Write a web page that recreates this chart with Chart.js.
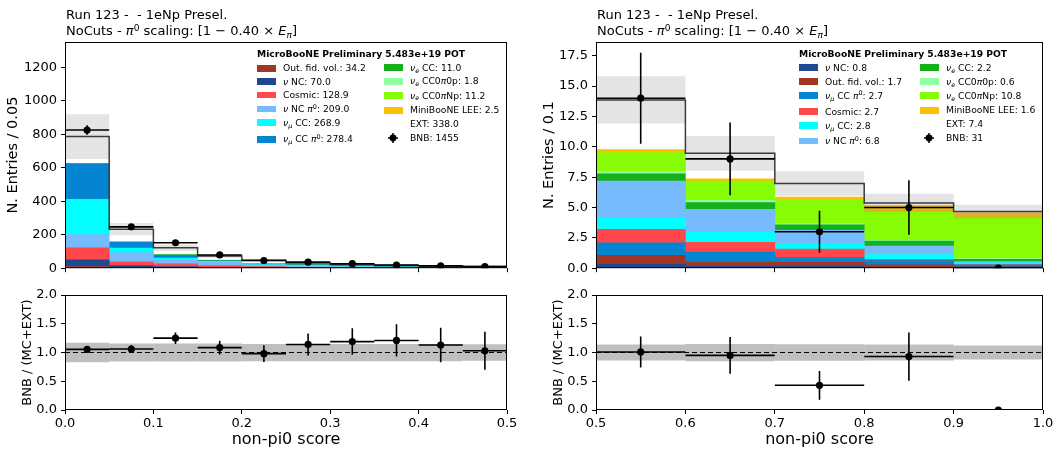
<!DOCTYPE html>
<html>
<head>
<meta charset="utf-8">
<title>non-pi0 score</title>
<script src="https://cdn.jsdelivr.net/npm/chart.js@4.4.1/dist/chart.umd.min.js"></script>
<style>
  html, body { margin: 0; padding: 0; background: #fff; }
  #page { position: relative; width: 1056px; height: 453px; overflow: hidden;
          font-family: 'DejaVu Sans', sans-serif; color: #000; }
  canvas { position: absolute; }
  .txt { position: absolute; white-space: pre; }
  .ttl { font-size: 13px; line-height: 16px; }
  .leg { font-size: 9.2px; line-height: 12px; }
  .legtitle { font-weight: bold; }
  .sw { position: absolute; width: 18.5px; height: 6.5px; }
  .sp { font-size: 0.7em; position: relative; top: -0.5em; }
  .sb { font-size: 0.7em; position: relative; top: 0.3em; }
</style>
</head>
<body>
<div id="page">
  <canvas id="topL" width="520" height="280" style="left:0;top:0"></canvas>
  <canvas id="topR" width="536" height="280" style="left:520px;top:0"></canvas>
  <canvas id="ratL" width="520" height="173" style="left:0;top:280px"></canvas>
  <canvas id="ratR" width="536" height="173" style="left:520px;top:280px"></canvas>
</div>
<script>
Chart.defaults.font.family = "'DejaVu Sans', sans-serif";
Chart.defaults.color = '#000';

// bin edges of the two score ranges
const edgesL = [0, 0.05, 0.1, 0.15, 0.2, 0.25, 0.3, 0.35, 0.4, 0.45, 0.5];
const edgesR = [0.5, 0.6, 0.7, 0.8, 0.9, 1.0];

// left panel, entries per bin (stack order = legend order)
const outFvL     = [10, 5, 3, 2, 2, 2, 2, 2.2, 3.0, 3.0];
const nuNcL      = [40, 10, 6, 3, 2, 2.5, 2, 1.5, 1.5, 1.5];
const cosmicL    = [72, 23, 17, 10, 5, 0.5, 0.4, 0.4, 0.3, 0.3];
const ncPi0L     = [79, 55, 25, 22, 10, 7, 4, 3, 2.5, 1.5];
const numuCcL    = [210, 27, 10, 4, 3, 5, 4, 3, 1.9, 1];
const numuCcPi0L = [211, 35, 18, 3, 2, 3, 2.5, 2, 1, 0.9];
const nueCcL     = [2.5, 1.5, 1, 1.5, 1.2, 1, 0.8, 0.6, 0.5, 0.4];
const nue0pL     = [0.4, 0.2, 0.2, 0.3, 0.2, 0.1, 0.1, 0.1, 0.1, 0.1];
const nueNpL     = [0.3, 0.3, 0.5, 1.8, 2.2, 1.8, 1.5, 1.2, 0.9, 0.7];
const leeL       = [0.1, 0.1, 0.2, 0.4, 0.4, 0.4, 0.3, 0.2, 0.2, 0.2];
const extL       = [161, 76, 41, 25, 19, 8.3, 5.1, 1.5, 0.5, 0.1];
const bnbL       = [825, 247, 152, 79, 46, 36, 27, 19, 14, 10];
const bnbErrL    = [28.7, 15.7, 12.3, 8.9, 6.8, 6.0, 5.2, 4.4, 3.7, 3.2];
const relErrL    = [0.17, 0.155, 0.155, 0.155, 0.15, 0.15, 0.15, 0.15, 0.15, 0.145];
const ratioL     = [1.055, 1.06, 1.25, 1.085, 0.98, 1.14, 1.19, 1.21, 1.13, 1.03];
const ratioErrL  = [0.037, 0.067, 0.10, 0.12, 0.145, 0.19, 0.23, 0.28, 0.30, 0.33];
const legendTotL = [34.2, 70.0, 128.9, 209.0, 268.9, 278.4, 11.0, 1.8, 11.2, 2.5, 338.0];
const bnbTotL    = 1455;

// right panel
const nuNcR      = [0.32, 0.15, 0.15, 0.08, 0.1];
const outFvR     = [0.75, 0.4, 0.33, 0.2, 0.02];
const numuCcPi0R = [1.02, 0.78, 0.41, 0.35, 0.15];
const cosmicR    = [1.11, 0.81, 0.68, 0.1, 0.02];
const numuCcR    = [0.97, 0.81, 0.45, 0.4, 0.15];
const ncPi0R     = [3.0, 1.9, 1.1, 0.7, 0.1];
const nueCcR     = [0.6, 0.55, 0.45, 0.4, 0.2];
const nue0pR     = [0.2, 0.18, 0.1, 0.06, 0.06];
const nueNpR     = [1.55, 1.6, 1.95, 2.4, 3.3];
const leeR       = [0.25, 0.18, 0.23, 0.47, 0.47];
const extR       = [4.09, 2.11, 1.13, 0.22, 0.09];
const bnbR       = [14, 9, 3, 5, 0];
const bnbErrR    = [3.74, 3.0, 1.73, 2.24, 0];
const relErrR    = [0.14, 0.15, 0.145, 0.14, 0.12];
const ratioR     = [1.01, 0.95, 0.43, 0.93, 0];
const ratioErrR  = [0.27, 0.32, 0.25, 0.42, 0];
const legendTotR = [0.8, 1.7, 2.7, 2.7, 2.8, 6.8, 2.2, 0.6, 10.8, 1.6, 7.4];
const bnbTotR    = 31;

// axis ticks
const xTicksL = [0, 0.1, 0.2, 0.3, 0.4, 0.5];
const xTicksR = [0.5, 0.6, 0.7, 0.8, 0.9, 1.0];
const yTicksTopL = [0, 200, 400, 600, 800, 1000, 1200];
const yTicksTopR = [0, 2.5, 5, 7.5, 10, 12.5, 15, 17.5];
const yTicksRatio = [0, 0.5, 1, 1.5, 2];

const keysL = ['outFv', 'nuNc', 'cosmic', 'ncPi0', 'numuCc', 'numuCcPi0', 'nueCc', 'nue0p', 'nueNp', 'lee', 'ext'];
const stackL = [outFvL, nuNcL, cosmicL, ncPi0L, numuCcL, numuCcPi0L, nueCcL, nue0pL, nueNpL, leeL, extL];
const keysR = ['nuNc', 'outFv', 'numuCcPi0', 'cosmic', 'numuCc', 'ncPi0', 'nueCc', 'nue0p', 'nueNp', 'lee', 'ext'];
const stackR = [nuNcR, outFvR, numuCcPi0R, cosmicR, numuCcR, ncPi0R, nueCcR, nue0pR, nueNpR, leeR, extR];

const colors = {
  outFv: '#a13624', nuNc: '#1e488f', cosmic: '#ff474c', ncPi0: '#75bbfd',
  numuCc: '#00ffff', numuCcPi0: '#0485d1', nueCc: '#15b01a', nue0p: '#8fff9f',
  nueNp: '#87fd05', lee: '#fbbf05', ext: '#ffffff'
};
const nu = '<i>ν</i>';
const pi0 = '<i>π</i><span class="sp">0</span>';
const names = {
  outFv: 'Out. fid. vol.', nuNc: nu + ' NC', cosmic: 'Cosmic', ncPi0: nu + ' NC ' + pi0,
  numuCc: nu + '<span class="sb"><i>μ</i></span> CC',
  numuCcPi0: nu + '<span class="sb"><i>μ</i></span> CC ' + pi0,
  nueCc: nu + '<span class="sb"><i>e</i></span> CC',
  nue0p: nu + '<span class="sb"><i>e</i></span> CC0<i>π</i>0p',
  nueNp: nu + '<span class="sb"><i>e</i></span> CC0<i>π</i>Np',
  lee: 'MiniBooNE LEE', ext: 'EXT'
};

const centers = edges => edges.slice(0, -1).map((e, i) => (e + edges[i + 1]) / 2);
const halfW = edges => edges.slice(0, -1).map((e, i) => (edges[i + 1] - e) / 2);
const barOpts = { type: 'bar', borderWidth: 0, grouped: false, barPercentage: 1, categoryPercentage: 1 };

// draws x/y error bars of datasets that carry errX / errY
const errorBars = {
  id: 'errorBars',
  afterDatasetsDraw(chart) {
    const { ctx, chartArea: a, scales: { x, y } } = chart;
    ctx.save();
    ctx.beginPath();
    ctx.rect(a.left, a.top, a.width, a.height);
    ctx.clip();
    ctx.strokeStyle = '#000';
    ctx.lineWidth = 1.6;
    chart.data.datasets.forEach(ds => {
      if (!ds.errY) return;
      ds.data.forEach((p, i) => {
        const px = x.getPixelForValue(p.x);
        const py = y.getPixelForValue(p.y);
        ctx.beginPath();
        ctx.moveTo(x.getPixelForValue(p.x - ds.errX[i]), py);
        ctx.lineTo(x.getPixelForValue(p.x + ds.errX[i]), py);
        ctx.moveTo(px, y.getPixelForValue(p.y - ds.errY[i]));
        ctx.lineTo(px, y.getPixelForValue(p.y + ds.errY[i]));
        ctx.stroke();
      });
    });
    ctx.restore();
  }
};

// box round the plot area, like matplotlib spines
const frame = {
  id: 'frame',
  afterDraw(chart) {
    const { ctx, chartArea: a } = chart;
    ctx.save();
    ctx.strokeStyle = '#000';
    ctx.lineWidth = 1;
    ctx.strokeRect(a.left + 0.5, a.top + 0.5, a.width - 1, a.height - 1);
    ctx.restore();
  }
};

function pointsWithErrors(edges, vals, errs) {
  return {
    type: 'scatter',
    data: centers(edges).map((x, i) => ({ x, y: vals[i] })),
    pointRadius: 3.6, pointBackgroundColor: '#000', pointBorderWidth: 0,
    errX: halfW(edges), errY: errs, clip: 0, order: 0
  };
}

function topDatasets(edges, keys, stack, bnb, bnbErr, relErr) {
  const xs = centers(edges);
  const total = xs.map(() => 0);
  const sets = keys.map((k, j) => ({
    ...barOpts,
    data: xs.map((x, i) => {
      const lo = total[i];
      total[i] += stack[j][i];
      return { x, y: [lo, total[i]] };
    }),
    backgroundColor: colors[k], order: 5
  }));
  sets.push({
    ...barOpts, inflateAmount: 0,
    data: xs.map((x, i) => ({ x, y: [total[i] * (1 - relErr[i]), total[i] * (1 + relErr[i])] })),
    backgroundColor: 'rgba(128,128,128,0.21)', order: 3
  });
  const step = [];
  total.forEach((v, i) => step.push({ x: edges[i], y: v }, { x: edges[i + 1], y: v }));
  sets.push({
    type: 'line', data: step, borderColor: '#3a3a3a', borderWidth: 1.5,
    pointRadius: 0, fill: false, tension: 0, order: 2
  });
  sets.push(pointsWithErrors(edges, bnb, bnbErr));
  return sets;
}

function ratioDatasets(edges, relErr, ratio, ratioErr) {
  const xs = centers(edges);
  return [
    {
      ...barOpts, inflateAmount: 0,
      data: xs.map((x, i) => ({ x, y: [1 - relErr[i], 1 + relErr[i]] })),
      backgroundColor: 'rgba(128,128,128,0.5)', order: 3
    },
    {
      type: 'line', data: [{ x: edges[0], y: 1 }, { x: edges[edges.length - 1], y: 1 }],
      borderColor: '#000', borderWidth: 1.2, borderDash: [5, 3], pointRadius: 0, order: 2
    },
    pointsWithErrors(edges, ratio, ratioErr)
  ];
}

const tickGrid = { drawOnChartArea: false, drawTicks: true, tickLength: 4, color: '#000', lineWidth: 1, offset: false };

function makeChart(id, datasets, ax) {
  return new Chart(document.getElementById(id), {
    type: 'bar',
    data: { datasets },
    options: {
      responsive: false, animation: false, devicePixelRatio: 1, events: [],
      layout: { padding: ax.pad },
      plugins: { legend: { display: false }, tooltip: { enabled: false } },
      scales: {
        x: {
          type: 'linear', min: ax.xTicks[0], max: ax.xTicks[ax.xTicks.length - 1], offset: false,
          afterBuildTicks: s => { s.ticks = ax.xTicks.map(value => ({ value })); },
          afterFit: s => { s.height = ax.xH; },
          grid: tickGrid, border: { display: false },
          ticks: { display: ax.xLabels, autoSkip: false, maxRotation: 0, padding: 2,
                   font: { size: 13 }, callback: v => v.toFixed(1) },
          title: { display: !!ax.xTitle, text: ax.xTitle || '', font: { size: 16 },
                   padding: { top: 0, bottom: 4 } }
        },
        y: {
          type: 'linear', min: 0, max: ax.yMax,
          afterBuildTicks: s => { s.ticks = ax.yTicks.map(value => ({ value })); },
          afterFit: s => { s.width = ax.yW; },
          grid: tickGrid, border: { display: false },
          ticks: { padding: 4, font: { size: 13 }, callback: v => v.toFixed(ax.yDec) },
          title: { display: true, text: ax.yTitle, font: { size: ax.yTitleSize },
                   padding: { top: ax.yTitlePad, bottom: 0 } }
        }
      }
    },
    plugins: [errorBars, frame]
  });
}

makeChart('topL', topDatasets(edgesL, keysL, stackL, bnbL, bnbErrL, relErrL), {
  pad: { top: 42, right: 13, left: 0, bottom: 0 }, xTicks: xTicksL, xH: 8, xLabels: false,
  yMax: 1351, yTicks: yTicksTopL, yDec: 0, yW: 65,
  yTitle: 'N. Entries / 0.05', yTitleSize: 14.5, yTitlePad: 4.3
});
makeChart('topR', topDatasets(edgesR, keysR, stackR, bnbR, bnbErrR, relErrR), {
  pad: { top: 42, right: 13, left: 0, bottom: 0 }, xTicks: xTicksR, xH: 8, xLabels: false,
  yMax: 18.63, yTicks: yTicksTopR, yDec: 1, yW: 76,
  yTitle: 'N. Entries / 0.1', yTitleSize: 14.5, yTitlePad: 20.3
});
makeChart('ratL', ratioDatasets(edgesL, relErrL, ratioL, ratioErrL), {
  pad: { top: 15, right: 13, left: 0, bottom: 0 }, xTicks: xTicksL, xH: 43, xLabels: true,
  xTitle: 'non-pi0 score', yMax: 2, yTicks: yTicksRatio, yDec: 1, yW: 65,
  yTitle: 'BNB / (MC+EXT)', yTitleSize: 13, yTitlePad: 20.2
});
makeChart('ratR', ratioDatasets(edgesR, relErrR, ratioR, ratioErrR), {
  pad: { top: 15, right: 13, left: 0, bottom: 0 }, xTicks: xTicksR, xH: 43, xLabels: true,
  xTitle: 'non-pi0 score', yMax: 2, yTicks: yTicksRatio, yDec: 1, yW: 76,
  yTitle: 'BNB / (MC+EXT)', yTitleSize: 13, yTitlePad: 31.2
});

// titles and legends as html text on top of the canvases
const page = document.getElementById('page');
function addText(cls, left, top, html) {
  const d = document.createElement('div');
  d.className = 'txt ' + cls;
  d.style.left = left + 'px';
  d.style.top = top + 'px';
  d.innerHTML = html;
  page.appendChild(d);
  return d;
}
function addBox(left, top, color) {
  const d = document.createElement('div');
  d.className = 'sw';
  d.style.left = left + 'px';
  d.style.top = top + 'px';
  d.style.background = color;
  page.appendChild(d);
}

const titleLine1 = 'Run 123 -  - 1eNp Presel.';
const titleLine2 = 'NoCuts - ' + pi0 + ' scaling: [1 − 0.40 × <i>E</i><span class="sb"><i>π</i></span>]';
[66, 597].forEach(x => {
  addText('ttl', x, 6.5, titleLine1);
  addText('ttl', x, 23.3, titleLine2);
});

const legTitle = 'MicroBooNE Preliminary 5.483e+19 POT';
const bnbMarker = '<svg width="10" height="10" style="display:block"><line x1="5" y1="0" x2="5" y2="10" stroke="#000" stroke-width="1.5"/><line x1="0" y1="5" x2="10" y2="5" stroke="#000" stroke-width="1.5"/><circle cx="5" cy="5" r="3.4" fill="#000"/></svg>';

function addLegend(pos, keys, totals, bnbTotal) {
  addText('leg legtitle', pos.titleX, pos.titleY - 6, legTitle);
  keys.forEach((k, i) => {
    const col2 = i >= 6;
    const yc = col2 ? pos.rows2[i - 6] : pos.rows1[i];
    addBox(col2 ? pos.sw2 : pos.sw1, yc - 3.25, colors[k]);
    addText('leg', col2 ? pos.tx2 : pos.tx1, yc - 6, names[k] + ': ' + totals[i].toFixed(1));
  });
  const yb = pos.rows2[5];
  addText('', pos.mk - 5, yb - 5, bnbMarker);
  addText('leg', pos.tx2, yb - 6, 'BNB: ' + bnbTotal);
}

addLegend({
  titleX: 257, titleY: 54.3, sw1: 257, tx1: 283, sw2: 384, tx2: 410, mk: 393.3,
  rows1: [68.3, 81.7, 95, 109, 122.7, 139.3], rows2: [67.7, 81.3, 95.5, 110.3, 124.3, 137.7]
}, keysL, legendTotL, bnbTotL);
addLegend({
  titleX: 799, titleY: 54.3, sw1: 799, tx1: 825, sw2: 920, tx2: 946, mk: 929,
  rows1: [67.7, 81.7, 95.7, 111.7, 125.7, 141], rows2: [67.7, 81.7, 95.7, 110.3, 124.3, 137.7]
}, keysR, legendTotR, bnbTotR);
</script>
</body>
</html>
